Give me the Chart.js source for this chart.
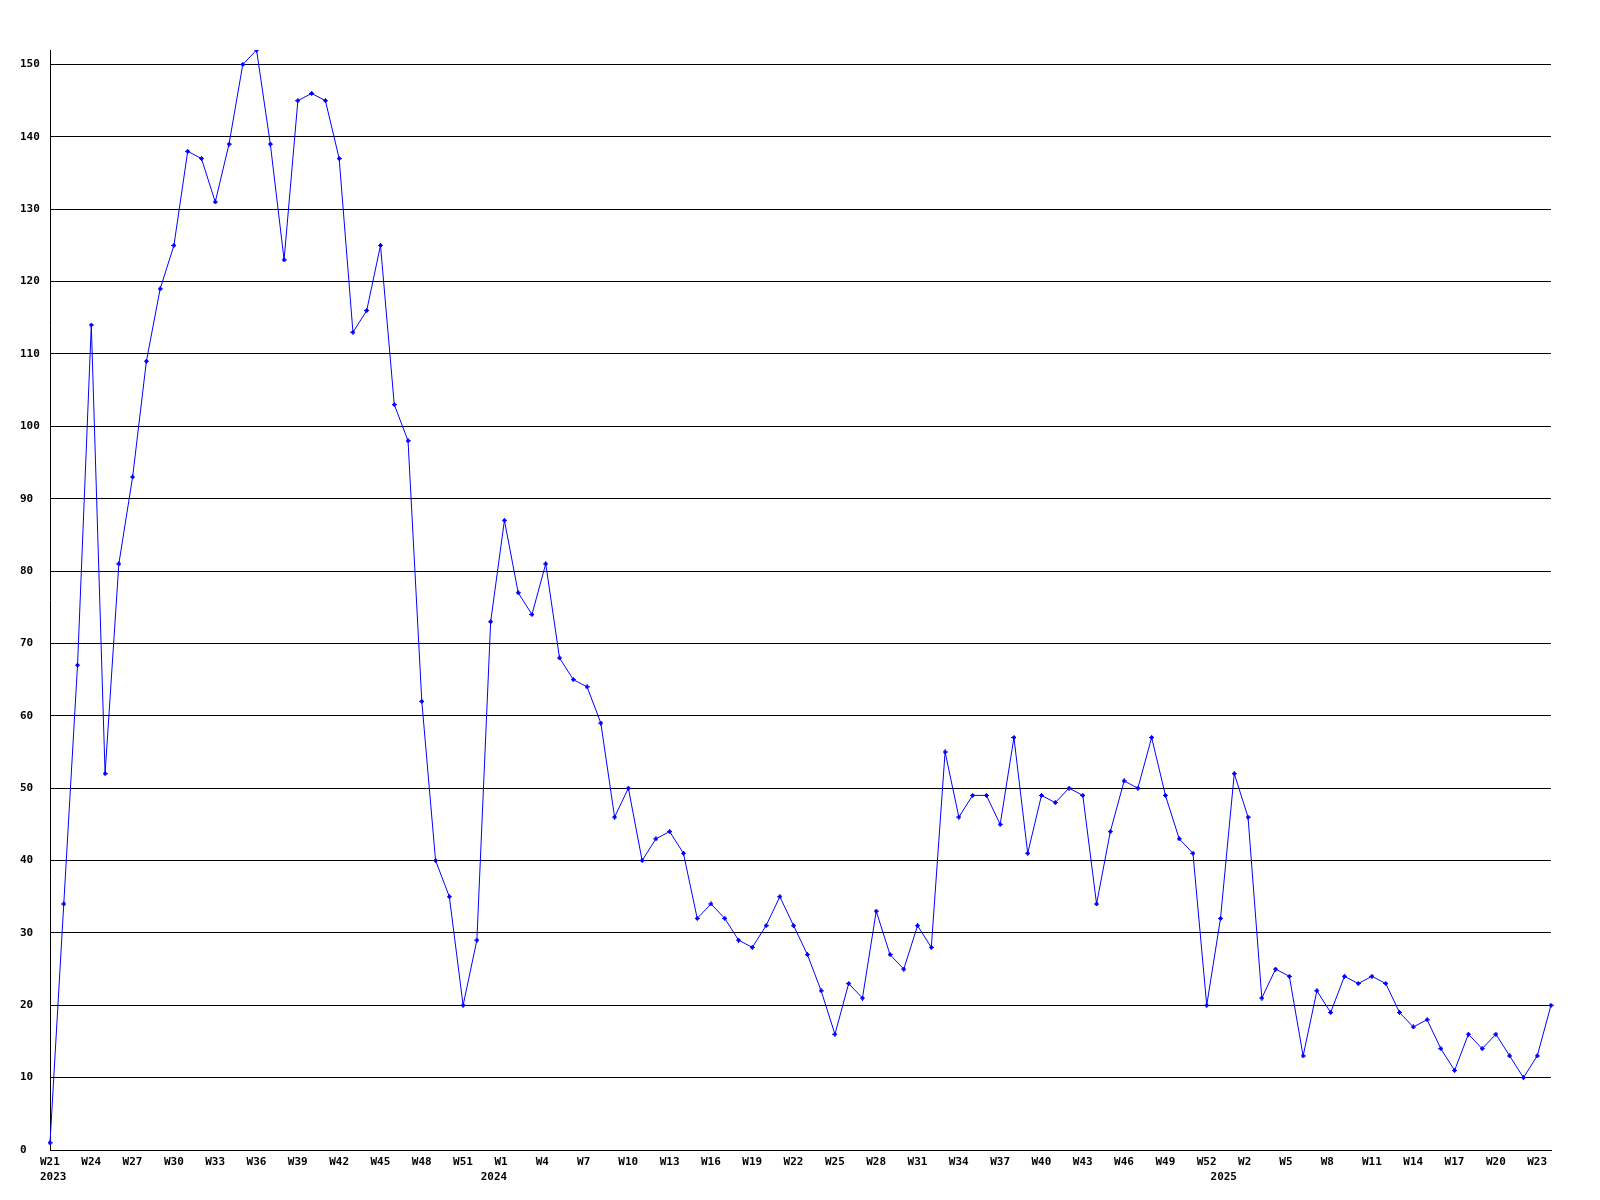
<!DOCTYPE html>
<html>
<head>
<meta charset="utf-8">
<script src="https://cdn.jsdelivr.net/npm/chart.js@4"></script>
<style>
  body { margin: 0; background: #fff; }
  canvas { display: block; }
</style>
</head>
<body>
<canvas id="grafico" width="1600" height="1200"></canvas>
<script>
// Anos e semanas do eixo x (a primeira semana de cada ano leva o rótulo do ano)
const anos = [2023, 2024, 2025];
const semanas2023 = [21, 22, 23, 24, 25, 26, 27, 28, 29, 30, 31, 32, 33, 34, 35, 36,
  37, 38, 39, 40, 41, 42, 43, 44, 45, 46, 47, 48, 49, 50, 51, 52];
const semanas2024 = [0, 1, 2, 3, 4, 5, 6, 7, 8, 9, 10, 11, 12, 13, 14, 15, 16, 17,
  18, 19, 20, 21, 22, 23, 24, 25, 26, 27, 28, 29, 30, 31, 32, 33, 34, 35, 36, 37,
  38, 39, 40, 41, 42, 43, 44, 45, 46, 47, 48, 49, 50, 51, 52];
const semanas2025 = [0, 1, 2, 3, 4, 5, 6, 7, 8, 9, 10, 11, 12, 13, 14, 15, 16, 17,
  18, 19, 20, 21, 22, 23, 24];

// Valores semanais
const valores = [
  1, 34, 67, 114, 52, 81, 93, 109, 119, 125,
  138, 137, 131, 139, 150, 152, 139, 123, 145, 146,
  145, 137, 113, 116, 125, 103, 98, 62, 40, 35,
  20, 29, 73, 87, 77, 74, 81, 68, 65, 64,
  59, 46, 50, 40, 43, 44, 41, 32, 34, 32,
  29, 28, 31, 35, 31, 27, 22, 16, 23, 21,
  33, 27, 25, 31, 28, 55, 46, 49, 49, 45,
  57, 41, 49, 48, 50, 49, 34, 44, 51, 50,
  57, 49, 43, 41, 20, 32, 52, 46, 21, 25,
  24, 13, 22, 19, 24, 23, 24, 23, 19, 17,
  18, 14, 11, 16, 14, 16, 13, 10, 13, 20
];

// Eixo y: rótulos de 0 a 150, topo do eixo em 152
const yTicks = [0, 10, 20, 30, 40, 50, 60, 70, 80, 90, 100, 110, 120, 130, 140, 150];
const yMin = 0;
const yMax = 152;

// Monta a lista de categorias (ano + semana)
const categorias = [];
[semanas2023, semanas2024, semanas2025].forEach((semanas, i) => {
  semanas.forEach((s, j) => {
    categorias.push({ ano: anos[i], semana: s, inicioAno: j === 0 });
  });
});

// Marcador pequeno em losango, desenhado pixel a pixel
function criarMarcador() {
  const c = document.createElement('canvas');
  c.width = 5;
  c.height = 5;
  const g = c.getContext('2d');
  g.fillStyle = '#0000ff';
  g.fillRect(2, 0, 1, 5);
  g.fillRect(0, 2, 5, 1);
  g.fillRect(1, 1, 3, 3);
  return c;
}

const fonte = { family: '"DejaVu Sans Mono", "Liberation Mono", monospace', size: 11, weight: 'bold', lineHeight: '15px' };

const ctx = document.getElementById('grafico').getContext('2d');
new Chart(ctx, {
  type: 'line',
  data: {
    labels: categorias.map(c => c.ano + '-W' + c.semana),
    datasets: [{
      data: valores,
      borderColor: '#0000ff',
      borderWidth: 1,
      tension: 0,
      fill: false,
      pointStyle: criarMarcador(),
      pointRadius: 3,
      pointHoverRadius: 3
    }]
  },
  options: {
    responsive: false,
    animation: false,
    devicePixelRatio: 1,
    layout: {
      padding: { left: 20, top: 50, right: 49, bottom: 0 }
    },
    plugins: {
      legend: { display: false },
      tooltip: { enabled: false }
    },
    scales: {
      x: {
        type: 'category',
        offset: false,
        grid: { display: false, drawTicks: false },
        border: { display: true, color: '#000', width: 1 },
        afterFit: scale => { scale.height = 50; },
        ticks: {
          autoSkip: false,
          maxRotation: 0,
          minRotation: 0,
          align: 'start',
          labelOffset: -10,
          padding: 5,
          color: '#000',
          font: fonte,
          callback: function(valor, indice) {
            const c = categorias[indice];
            const linha1 = indice % 3 === 0 ? 'W' + c.semana : '';
            if (c.inicioAno) return [linha1, String(c.ano)];
            return linha1;
          }
        }
      },
      y: {
        min: yMin,
        max: yMax,
        grid: { color: '#000', lineWidth: 1, drawTicks: false },
        border: { display: true, color: '#000', width: 1 },
        afterFit: scale => { scale.width = 30; },
        afterBuildTicks: scale => {
          scale.ticks = yTicks.map(v => ({ value: v }));
        },
        ticks: {
          crossAlign: 'far',
          padding: 0,
          color: '#000',
          font: fonte
        }
      }
    }
  }
});
</script>
</body>
</html>
